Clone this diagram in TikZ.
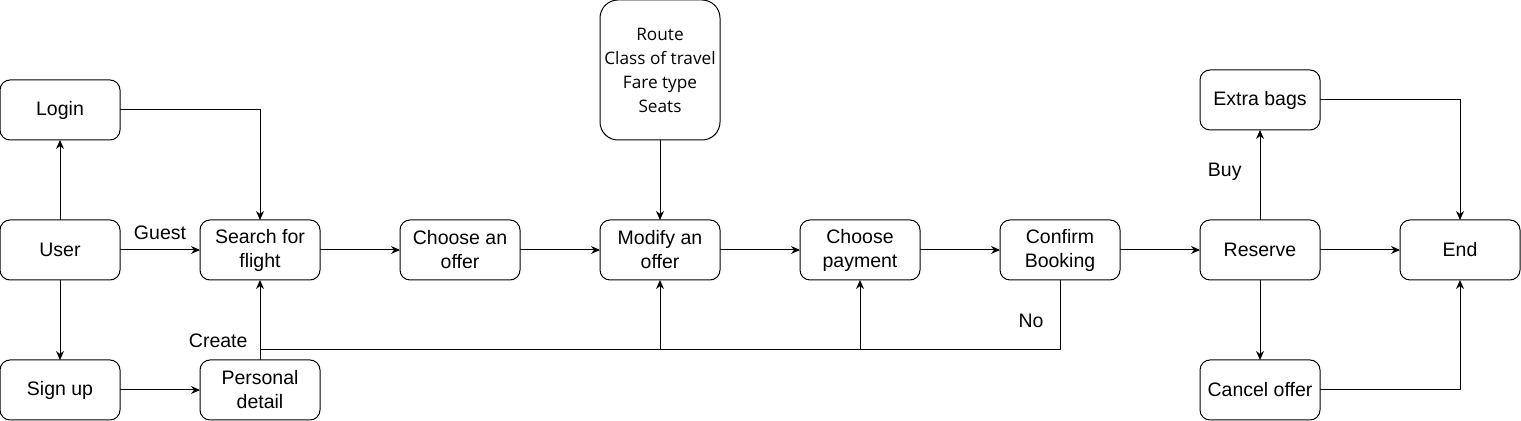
\documentclass[tikz,border=0pt]{standalone}
\usepackage{fontspec}
\setmainfont{Liberation Sans}
\newfontfamily\notefont{Open Sans}
\usetikzlibrary{positioning,arrows.meta,calc}

\begin{document}
\begin{tikzpicture}
			\tikzstyle{stepbox}=[rectangle, draw, rounded corners=5pt, line width=0.5pt, outer sep=0pt, minimum width=60pt, minimum height=30pt, inner sep=1pt, align=center, font=\fontsize{9.75}{12}\selectfont]
			\tikzstyle{notebox}=[stepbox, rounded corners=9pt, minimum height=70pt, font=\notefont\fontsize{8.6}{12}\selectfont]
			\tikzstyle{arr}=[-{Stealth[length=4.5pt,width=4pt]}, line width=0.5pt]
			\tikzstyle{lbl}=[font=\fontsize{9.75}{12}\selectfont, inner sep=1pt]
			\useasboundingbox (0,0) rectangle (760.5pt,-210.5pt);
			% main row
			\node[stepbox] (user) at (30pt,-125pt) {User};
			\node[stepbox, right=40pt of user] (search) {Search for\\flight};
			\node[stepbox, right=40pt of search] (choose) {Choose an\\offer};
			\node[stepbox, right=40pt of choose] (modify) {Modify an\\offer};
			\node[stepbox, right=40pt of modify] (payment) {Choose\\payment};
			\node[stepbox, right=40pt of payment] (confirm) {Confirm\\Booking};
			\node[stepbox, right=40pt of confirm] (reserve) {Reserve};
			\node[stepbox, right=40pt of reserve] (end) {End};
			% branches
			\node[stepbox, above=40pt of user] (login) {Login};
			\node[stepbox, below=40pt of user] (signup) {Sign up};
			\node[stepbox, below=40pt of search] (personal) {Personal\\detail};
			\node[notebox, above=40pt of modify] (route) {Route\\Class of travel\\Fare type\\Seats};
			\node[stepbox, above=45pt of reserve] (bags) {Extra bags};
			\node[stepbox, below=40pt of reserve] (cancel) {Cancel offer};
			\coordinate (nobar) at ($(confirm.south)+(0,-35pt)$);
			% connectors
			\draw[arr] (user) -- (login);
			\draw[arr] (user) -- (signup);
			\draw[arr] (user) -- node[lbl, above=4pt]{Guest} (search);
			\draw[arr] (login) -| (search);
			\draw[arr] (signup) -- (personal);
			\draw[arr] (personal) -- node[lbl, pos=0.24, left=5pt]{Create} (search);
			\draw[arr] (search) -- (choose);
			\draw[arr] (choose) -- (modify);
			\draw[arr] (route) -- (modify);
			\draw[arr] (modify) -- (payment);
			\draw[arr] (payment) -- (confirm);
			\draw[arr] (confirm) -- (reserve);
			\draw[line width=0.5pt] (confirm.south) -- node[lbl, pos=0.58, left=7pt]{No} (nobar) -- (nobar -| personal.north);
			\draw[arr] (nobar -| modify.south) -- (modify.south);
			\draw[arr] (nobar -| payment.south) -- (payment.south);
			\draw[arr] (reserve) -- (end);
			\draw[arr] (reserve) -- node[lbl, pos=0.53, left=8pt]{Buy} (bags);
			\draw[arr] (reserve) -- (cancel);
			\draw[arr] (bags) -| (end);
			\draw[arr] (cancel) -| (end);
		\end{tikzpicture}
\end{document}
